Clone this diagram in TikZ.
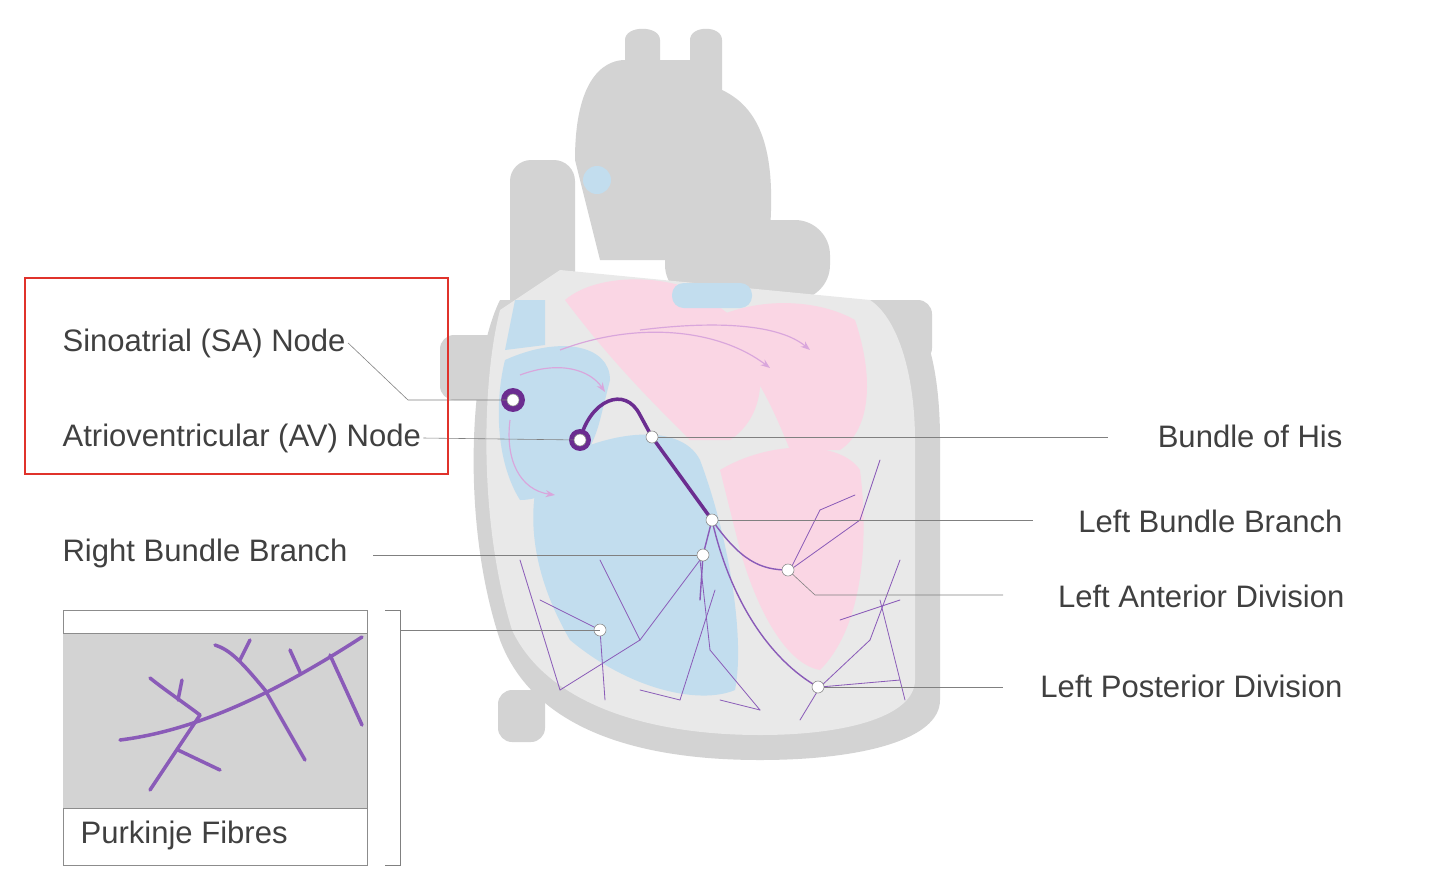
\documentclass[tikz,border=0pt]{standalone}
\usepackage{fontspec}
\setmainfont{Liberation Sans}
\usetikzlibrary{positioning,arrows.meta}
\definecolor{wallgray}{HTML}{D3D3D3}
\definecolor{innergray}{HTML}{E9E9E9}
\definecolor{chamblue}{HTML}{C2DDEE}
\definecolor{champink}{HTML}{FAD6E4}
\definecolor{nodepurple}{HTML}{6B2D90}
\definecolor{fibrepurple}{HTML}{8A5BB8}
\definecolor{flowpink}{HTML}{D9A6DC}
\definecolor{boxred}{HTML}{E0322B}
\begin{document}
\begin{tikzpicture}[x=0.3mm, y=-0.3mm,
    % --- label style ---
    lbl/.style={font=\fontsize{26.5}{30}\selectfont, text=black!75, inner sep=2pt},
    % --- leader line style ---
    lead/.style={draw=black!50, line width=0.5pt},
    % --- junction dot style ---
    dot/.style={circle, fill=white, draw=black!45, line width=0.5pt, minimum size=3.6mm, inner sep=0pt},
    % --- conduction styles ---
    bundle/.style={draw=nodepurple, line width=3pt, line cap=round},
    fibre/.style={draw=fibrepurple, line width=0.7pt, line cap=round},
    flow/.style={draw=flowpink, line width=1pt, -{Stealth[length=8pt]}},
]
\useasboundingbox (0,0) rectangle (1440,895);

%% ---- OUTER HEART (gray wall) ----
\fill[wallgray, rounded corners=12pt] (440,335) rectangle (520,400);
\fill[wallgray, rounded corners=12pt] (860,300) rectangle (932,362);
\fill[wallgray, rounded corners=12pt] (498,690) rectangle (545,742);
\fill[wallgray, rounded corners=18pt] (510,160) rectangle (575,320);
\fill[wallgray] (575,160) .. controls (575,70) and (610,60) .. (625,60)
    -- (625,40) .. controls (625,25) and (660,25) .. (660,40) -- (660,60)
    -- (690,60) -- (690,40) .. controls (690,25) and (722,25) .. (722,40)
    -- (722,90) .. controls (765,110) and (775,160) .. (770,230)
    -- (700,260) -- (600,260) -- cycle;
\fill[wallgray, rounded corners=30pt] (665,220) rectangle (830,300);
\fill[wallgray] (500,300) .. controls (470,360) and (460,520) .. (500,640)
    .. controls (530,720) and (620,760) .. (760,760)
    .. controls (860,760) and (940,740) .. (940,700)
    -- (940,440) .. controls (940,380) and (930,320) .. (900,300) -- cycle;

%% ---- INNER WALLS (light gray) ----
\fill[innergray] (500,310) .. controls (482,380) and (478,520) .. (512,630)
    .. controls (545,700) and (640,735) .. (760,735)
    .. controls (850,735) and (915,715) .. (915,680)
    -- (915,440) .. controls (915,380) and (900,320) .. (870,300)
    -- (560,270) -- cycle;

%% ---- CHAMBERS ----
\fill[chamblue] (515,300) -- (545,300) -- (545,345) -- (505,350) -- cycle;
\fill[chamblue] (505,360) .. controls (560,335) and (610,345) .. (610,380)
    -- (600,420) .. controls (590,460) and (560,500) .. (520,500)
    .. controls (495,460) and (495,400) .. (505,360) -- cycle;
\fill[chamblue] (540,470) .. controls (600,430) and (680,420) .. (700,460)
    .. controls (730,540) and (745,640) .. (735,690)
    .. controls (700,705) and (630,690) .. (570,640)
    .. controls (535,580) and (525,520) .. (540,470) -- cycle;
\fill[champink] (565,300) .. controls (600,270) and (680,275) .. (710,300)
    -- (750,330) .. controls (770,380) and (760,420) .. (730,440)
    -- (690,440) .. controls (650,400) and (610,360) .. (565,300) -- cycle;
\fill[champink] (710,320) .. controls (760,295) and (820,300) .. (855,320)
    .. controls (875,380) and (870,430) .. (840,450)
    -- (790,450) .. controls (770,400) and (750,360) .. (710,320) -- cycle;
\fill[champink] (720,470) .. controls (770,440) and (840,440) .. (860,470)
    .. controls (870,550) and (860,630) .. (820,670)
    .. controls (790,665) and (760,620) .. (740,550) -- cycle;
\fill[chamblue] (597,180) circle (14);
\fill[chamblue, rounded corners=10pt] (672,283) rectangle (752,308);

%% ---- FLOW ARROWS ----
\draw[flow] (520,375) .. controls (560,360) and (590,370) .. (605,392);
\draw[flow] (510,420) .. controls (505,460) and (520,490) .. (555,495);
\draw[flow] (560,350) .. controls (640,320) and (720,330) .. (770,368);
\draw[flow] (640,330) .. controls (720,320) and (780,325) .. (810,350);

%% ---- PURKINJE FIBRES (heart) ----
\foreach \xa/\ya/\xb/\yb in {700/560/640/640, 640/640/560/690, 600/630/540/600,
    600/630/605/700, 700/560/710/650, 710/650/760/710, 715/590/680/700,
    790/570/820/510, 820/510/855/495, 790/570/860/520, 860/520/880/460,
    820/687/870/640, 870/640/900/560, 820/687/900/680, 880/600/905/700,
    820/687/800/720, 760/710/720/700, 680/700/640/690, 560/690/520/560,
    640/640/600/560, 840/620/900/600}
    \draw[fibre] (\xa,\ya) -- (\xb,\yb);

%% ---- CONDUCTION PATH ----
\coordinate (sa) at (513,400);
\coordinate (av) at (580,440);
\coordinate (his) at (652,437);
\coordinate (lbb) at (712,520);
\coordinate (rbb) at (703,555);
\coordinate (lad) at (788,570);
\coordinate (pur) at (600,630);
\coordinate (lpd) at (818,687);
\draw[bundle, line width=5pt] (sa) circle (9);
\draw[bundle, line width=5pt] (av) circle (8);
\draw[bundle] (av) .. controls (590,400) and (625,385) .. (640,415) -- (his)
    -- (lbb);
\draw[fibre, line width=1.2pt] (lbb) -- (rbb) -- (700,600);
\draw[fibre, line width=1.2pt] (lbb) .. controls (740,560) and (760,570) .. (lad);
\draw[fibre, line width=1.2pt] (lbb) .. controls (730,600) and (770,660) .. (lpd);

%% ---- LABELS ----
\node[lbl, anchor=west] (salbl) at (60,343) {Sinoatrial (SA) Node};
\node[lbl, anchor=west] (avlbl) at (60,438) {Atrioventricular (AV) Node};
\node[lbl, anchor=west] (rbblbl) at (60,553) {Right Bundle Branch};
\node[lbl, anchor=east] (hislbl) at (1345,436) {Bundle of His};
\node[lbl, anchor=east] (lbblbl) at (1345,521) {Left Bundle Branch};
\node[lbl, anchor=east] (ladlbl) at (1347,596) {Left Anterior Division};
\node[lbl, anchor=east] (lpdlbl) at (1345,686) {Left Posterior Division};
\coordinate (rbbend) at (373,555);
\coordinate (hisend) at (1108,437);
\coordinate (lbbend) at (1033,520);
\coordinate (ladend) at (1003,595);
\coordinate (lpdend) at (1003,687);

\draw[lead] (salbl.east) -- (408,400) -- (sa);
\draw[lead] (avlbl.east) -- (av);
\draw[lead] (rbbend) -- (rbb);
\draw[lead] (his) -- (hisend);
\draw[lead] (lbb) -- (lbbend);
\draw[lead] (lad) -- (815,595) -- (ladend);
\draw[lead] (lpd) -- (lpdend);

%% ---- DOTS ----
\foreach \p in {sa,av,his,lbb,rbb,lad,pur,lpd}
    \node[dot] at (\p) {};

%% ---- RED HIGHLIGHT BOX ----
\draw[boxred, line width=2.5pt] (25,278) rectangle (448,474);

%% ---- PURKINJE INSET ----
\draw[black!45, line width=0.6pt, fill=white] (63,610) rectangle (367,865);
\fill[wallgray] (63,633) rectangle (367,808);
\draw[black!45, line width=0.6pt] (63,633) -- (367,633) (63,808) -- (367,808);
\node[lbl, anchor=west] (purlbl) at (78,835) {Purkinje Fibres};
\draw[lead] (385,610) -- (400,610) -- (400,865) -- (385,865);
\draw[lead] (400,630) -- (pur);
\begin{scope}[draw=fibrepurple, line width=3pt, line cap=round]
    \draw (120,740) .. controls (200,730) and (280,690) .. (362,637);
    \draw (330,655) -- (362,725);
    \draw (300,672) -- (290,650);
    \draw (265,690) .. controls (240,660) and (230,650) .. (215,645);
    \draw (240,660) -- (250,640);
    \draw (265,690) -- (305,760);
    \draw (200,715) .. controls (180,700) and (165,690) .. (150,678);
    \draw (178,700) -- (182,680);
    \draw (200,715) -- (150,790);
    \draw (178,750) -- (220,770);
\end{scope}
\end{tikzpicture}
\end{document}
